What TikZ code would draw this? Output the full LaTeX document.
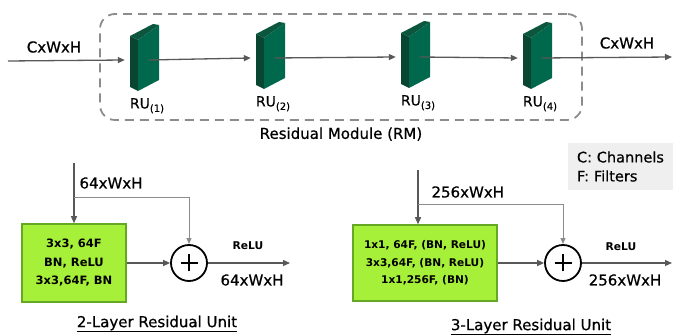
\documentclass[tikz,border=0pt]{standalone}
\usepackage{fontspec}
\setmainfont{DejaVu Sans}
\newfontfamily\heavysans{DejaVu Sans}[FakeBold=0.6]
\usetikzlibrary{positioning,arrows.meta}
\definecolor{slabfront}{RGB}{0,104,76}
\definecolor{slabside}{RGB}{8,70,50}
\definecolor{slabtop}{RGB}{12,86,62}
\definecolor{limefill}{RGB}{166,240,58}
\definecolor{limeedge}{RGB}{100,168,36}
\definecolor{linegray}{RGB}{88,88,88}
\definecolor{skipgray}{RGB}{140,140,140}
\definecolor{legendgray}{RGB}{239,239,239}

\begin{document}
\begin{tikzpicture}[x=1pt,y=-1pt,
  every node/.style={font=\heavysans\fontsize{15}{18}\selectfont},
  slab/.style={minimum width=21pt,minimum height=55pt,inner sep=0pt},
  module/.style={draw=skipgray,dash pattern=on 9pt off 6pt,line width=1.8pt,
    rounded corners=15pt,minimum width=482pt,minimum height=106pt},
  flow/.style={linegray,line width=1.3pt,-{Triangle[length=7pt,width=6pt]}},
  skip/.style={skipgray,line width=1pt,-{Triangle[length=6pt,width=5pt]}},
  layerbox/.style={draw=limeedge,line width=1.5pt,fill=limefill,align=center},
  sum/.style={circle,draw,line width=1.8pt,minimum size=36pt,inner sep=0pt,
    path picture={\draw[line width=2.6pt]
      ([xshift=-8.5pt]path picture bounding box.center) -- ([xshift=8.5pt]path picture bounding box.center)
      ([yshift=-8.5pt]path picture bounding box.center) -- ([yshift=8.5pt]path picture bounding box.center);}},
  relu/.style={font=\bfseries\fontsize{10.7}{12}\selectfont},
  legend/.style={fill=legendgray,minimum width=108pt,minimum height=47pt,align=left,
    text width=90pt,inner xsep=9pt,font=\heavysans\fontsize{14.5}{19}\selectfont}]
\useasboundingbox (0,0) rectangle (673,336);

\node[module] (rm) at (341,67) {};
\node[below=3pt of rm] (rmlab) {Residual Module (RM)};

\foreach \i/\x/\y in {1/148.5/60,2/274.5/58,3/419.5/57,4/541.5/58}{
  \node[slab] (ru\i) at (\x,\y) {};
  \begin{scope}[shift={(ru\i.center)}]
    \fill[slabside] (-18.5,-24) -- (-10.5,-20) -- (-10.5,31) -- (-18.5,27) -- cycle;
    \fill[slabtop] (-18.5,-24) -- (4.5,-36) -- (10.5,-35) -- (-10.5,-20) -- cycle;
    \fill[slabfront] (-10.5,-20) -- (10.5,-35) -- (10.5,20) -- (-10.5,31) -- cycle;
  \end{scope}
  \node[below=7pt of ru\i,xshift=-1.5pt,font=\heavysans\fontsize{14}{16}\selectfont] (lab\i)
    {RU\raisebox{-3.5pt}{\fontsize{10}{10}\selectfont(\i)}};
}

\coordinate (in) at (8,61);
\coordinate (out) at (672,57);
\node (inlab) at (54,47) {CxWxH};
\node (outlab) at (627,43) {CxWxH};
\draw[flow] (in) -- ([xshift=-13pt]ru1.west);
\draw[flow] (ru1.center) -- ([xshift=-13pt]ru2.west);
\draw[flow] (ru2.center) -- ([xshift=-13pt]ru3.west);
\draw[flow] (ru3.center) -- ([xshift=-13pt]ru4.west);
\draw[flow] (ru4.center) -- (out);

\node[legend] (key) at (622,166.5) {C: Channels\\F: Filters};

\node[layerbox,minimum width=104pt,minimum height=78pt,
  font=\bfseries\fontsize{11.5}{18.5}\selectfont] (box2) at (74,263)
  {3x3, 64F\\BN, ReLU\\3x3,64F, BN};
\node[sum] (sum2) at (189,263) {};
\coordinate (in2) at (74,163);
\coordinate (split2) at (74,198);
\coordinate (out2) at (290,263);
\draw[flow] (in2) -- (box2);
\draw[skip] (split2) -| (sum2.north);
\draw[flow] (box2) -- (sum2);
\draw[flow] (sum2) -- (out2);
\node[anchor=west] (dim2) at (76,183) {64xWxH};
\node[relu] (relu2) at (248,246) {ReLU};
\node (odim2) at (252,280) {64xWxH};
\node (title2) at (157,324) {\underline{2-Layer Residual Unit}};

\node[layerbox,minimum width=144pt,minimum height=76pt,
  font=\bfseries\fontsize{10.6}{17.5}\selectfont] (box3) at (425,263)
  {1x1, 64F, (BN, ReLU)\\3x3,64F, (BN, ReLU)\\1x1,256F, (BN)};
\node[sum] (sum3) at (563,263) {};
\coordinate (in3) at (418,170);
\coordinate (split3) at (418,205);
\coordinate (out3) at (672,263);
\draw[flow] (in3) -- (in3 |- box3.north);
\draw[skip] (split3) -| (sum3.north);
\draw[flow] (box3) -- (sum3);
\draw[flow] (sum3) -- (out3);
\node[anchor=west] (dim3) at (428,192) {256xWxH};
\node[relu] (relu3) at (621,247) {ReLU};
\node (odim3) at (625,280) {256xWxH};
\node (title3) at (531,327) {\underline{3-Layer Residual Unit}};
\end{tikzpicture}
\end{document}
